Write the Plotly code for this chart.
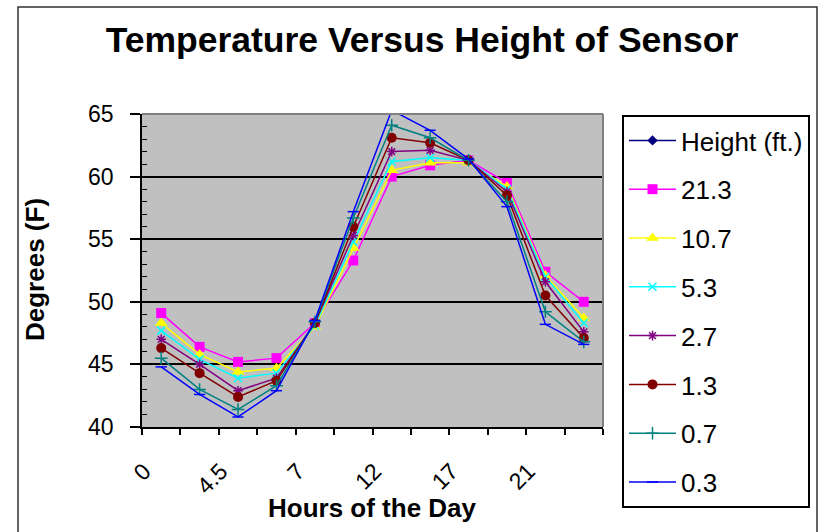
import plotly.graph_objects as go

# Hours of the day (category labels); only every other one is printed on the axis
hours = [0, 2, 4.5, 6, 7, 9.5, 12, 14.5, 17, 19, 21, 23]
shown_labels = ["0", "4.5", "7", "12", "17", "21"]

# Temperature (F) for each sensor height (ft.)
t_21_3 = [49.1, 46.4, 45.2, 45.5, 48.3, 53.3, 60.0, 60.9, 61.3, 59.5, 52.4, 50.0]
t_10_7 = [48.3, 45.8, 44.4, 44.7, 48.0, 54.3, 60.5, 61.1, 61.1, 59.2, 52.1, 48.7]
t_5_3 = [47.7, 45.4, 43.9, 44.3, 48.1, 54.8, 61.2, 61.5, 61.3, 59.0, 52.0, 48.3]
t_2_7 = [47.0, 45.0, 42.9, 43.9, 48.3, 55.3, 62.0, 62.1, 61.3, 58.8, 51.6, 47.6]
t_1_3 = [46.3, 44.3, 42.4, 43.7, 48.3, 56.0, 63.1, 62.7, 61.3, 58.5, 50.5, 47.1]
t_0_7 = [45.5, 43.0, 41.4, 43.3, 48.4, 56.7, 64.1, 63.1, 61.3, 58.0, 49.2, 46.8]
t_0_3 = [44.8, 42.6, 40.8, 42.9, 48.5, 57.2, 65.3, 63.7, 61.4, 57.6, 48.2, 46.6]

series_names = ["Height (ft.)", "21.3", "10.7", "5.3", "2.7", "1.3", "0.7", "0.3"]
series_values = [hours, t_21_3, t_10_7, t_5_3, t_2_7, t_1_3, t_0_7, t_0_3]

styles = [
    dict(color="#000080", symbol="diamond", size=8, lw=0, clip=True),
    dict(color="#FF00FF", symbol="square", size=10, lw=0, clip=True),
    dict(color="#FFFF00", symbol="triangle-up", size=11, lw=0, clip=True),
    dict(color="#00FFFF", symbol="x-thin", size=8, lw=1.5, clip=True),
    dict(color="#800080", symbol="asterisk-open", size=8, lw=1.5, clip=True),
    dict(color="#800000", symbol="circle", size=10, lw=0, clip=True),
    dict(color="#008080", symbol="cross-thin", size=9, lw=1.5, clip=True),
    dict(color="#0000FF", symbol="line-ew", size=8, lw=1.5, clip=False),
]

x_idx = list(range(len(hours)))
label_pos = x_idx[::2]

FONT = "Liberation Sans, Arial, sans-serif"

fig = go.Figure()
for name, vals, st in zip(series_names, series_values, styles):
    fig.add_trace(go.Scatter(
        x=x_idx, y=vals, name=name, mode="lines+markers",
        legendgroup=name, cliponaxis=st["clip"],
        line=dict(color=st["color"], width=1.5),
        marker=dict(symbol=st["symbol"], size=st["size"], color=st["color"],
                    line=dict(color=st["color"], width=st["lw"])),
    ))

L, R, T, B = 142, 223, 114, 105
W, H = 826, 532
pw, ph = W - L - R, H - T - B

def px_x(p):
    return (p - L) / pw

def px_y(p):
    return (H - B - p) / ph

fig.update_layout(
    width=W, height=H,
    margin=dict(l=L, r=R, t=T, b=B),
    paper_bgcolor="white",
    plot_bgcolor="#C0C0C0",
    font=dict(family=FONT, color="black"),
    title=dict(text="<b>Temperature Versus Height of Sensor</b>",
               x=422 / W, xanchor="center", y=1 - 40 / H, yanchor="middle",
               font=dict(size=35.5, family=FONT, color="black")),
    xaxis=dict(
        range=[-0.5, len(hours) - 0.5],
        tickvals=label_pos, ticktext=shown_labels,
        tickangle=-45, ticks="", ticklen=0,
        ticklabelstandoff=20, ticklabelshift=-17,
        tickfont=dict(size=23, family=FONT),
        showgrid=False, zeroline=False,
        showline=True, linecolor="black", linewidth=1.5,
        minor=dict(tick0=-0.5, dtick=1, ticks="outside", ticklen=6,
                   tickcolor="black", tickwidth=1.5, showgrid=False),
    ),
    yaxis=dict(
        range=[40, 65], dtick=5, tick0=40,
        ticks="outside", ticklen=10, tickcolor="black", tickwidth=1.5,
        ticklabelstandoff=12,
        tickfont=dict(size=23, family=FONT),
        showgrid=True, gridcolor="black", gridwidth=2,
        zeroline=False,
        showline=True, linecolor="black", linewidth=1.5,
        minor=dict(dtick=1, ticks="inside", ticklen=5, tickcolor="black",
                   tickwidth=1.2, showgrid=False),
    ),
    legend=dict(
        x=px_x(622), y=px_y(115), xanchor="left", yanchor="top",
        bgcolor="white", bordercolor="black", borderwidth=2,
        font=dict(size=26, family=FONT, color="black"),
        tracegroupgap=12, itemwidth=47, maxheight=480,
    ),
    showlegend=True,
)

# Axis titles
fig.add_annotation(text="<b>Hours of the Day</b>", xref="paper", yref="paper",
                   x=0.5, y=px_y(508), xanchor="center", yanchor="middle",
                   showarrow=False, font=dict(size=26, family=FONT, color="black"))
fig.add_annotation(text="<b>Degrees (F)</b>", xref="paper", yref="paper",
                   x=px_x(35), y=px_y(270), xanchor="center", yanchor="middle",
                   textangle=-90, showarrow=False,
                   font=dict(size=26, family=FONT, color="black"))

# Plot-area border (top and right) in grey
fig.add_shape(type="line", xref="x domain", yref="y domain", x0=0, x1=1, y0=1, y1=1,
              line=dict(color="#808080", width=2))
fig.add_shape(type="line", xref="x domain", yref="y domain", x0=1, x1=1, y0=0, y1=1,
              line=dict(color="#808080", width=2))
# Chart-area outer border
fig.add_shape(type="rect", xref="paper", yref="paper",
              x0=px_x(18), x1=px_x(817), y0=px_y(545), y1=px_y(7),
              line=dict(color="#333333", width=1.5), fillcolor="rgba(0,0,0,0)")

fig.write_html("out.html")
